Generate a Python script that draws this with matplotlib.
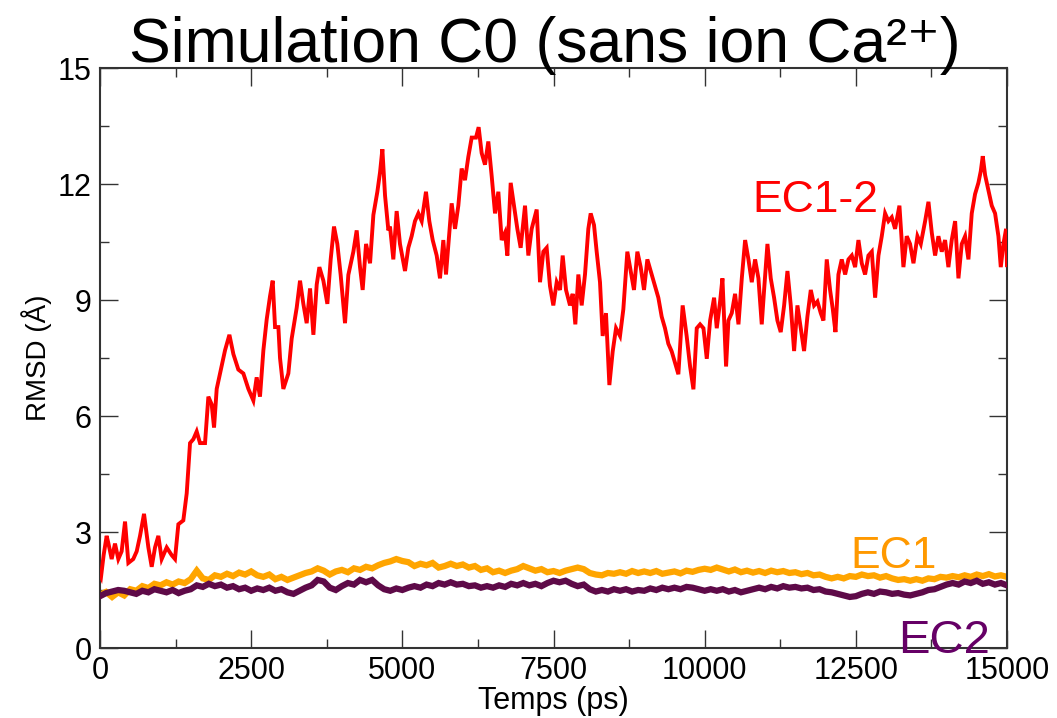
import matplotlib
matplotlib.use("Agg")
import matplotlib.pyplot as plt
from matplotlib.ticker import MultipleLocator

# ---- data: RMSD (Å) versus simulation time (ps) ----
red_t = [0, 17, 60, 110, 140, 193, 248, 303, 358, 414, 469, 550, 607, 662, 728, 800, 855, 910, 965,
         1020, 1103, 1186, 1240, 1296, 1378, 1434, 1489, 1544, 1599, 1654, 1737, 1792, 1847, 1886,
         1930, 2012, 2068, 2140, 2206, 2288, 2371, 2454, 2536, 2591, 2646, 2702, 2757, 2812, 2856,
         2895, 2950, 2977, 3032, 3115, 3170, 3253, 3308, 3363, 3418, 3474, 3529, 3584, 3628, 3694,
         3760, 3815, 3870, 3925, 3980, 4052, 4107, 4190, 4245, 4300, 4344, 4400, 4466, 4521, 4587,
         4631, 4670, 4714, 4769,
         4796, 4851, 4906, 4961, 5044, 5099, 5154, 5209, 5265, 5320, 5391, 5446, 5502, 5568, 5623,
         5678, 5722, 5777, 5816, 5871, 5926, 5981, 6036, 6091, 6147, 6218, 6262, 6312, 6367, 6422,
         6478, 6533, 6588, 6643, 6698, 6737, 6792, 6847, 6902, 6957, 7029, 7084, 7139, 7222, 7277,
         7332, 7387, 7442, 7497, 7553, 7608, 7652, 7707, 7773, 7817, 7861, 7911, 7966, 8021, 8076,
         8115, 8170, 8214, 8269, 8313, 8368, 8424, 8479, 8534, 8600, 8655, 8721, 8776, 8831, 8887,
         8942, 8997, 9052, 9124, 9179, 9234, 9289, 9344, 9399, 9455, 9510, 9565, 9636, 9702,
         9759, 9814, 9869, 9924, 9980, 10035, 10090, 10156, 10200, 10255, 10294, 10354, 10393, 10448,
         10503, 10559, 10614, 10669, 10724, 10779, 10834, 10889, 10944, 10983, 11038, 11093, 11148,
         11203, 11258, 11314, 11369, 11424, 11479, 11534, 11589, 11644, 11699, 11755, 11810, 11865,
         11920, 11964, 12019, 12074, 12119, 12163, 12212, 12267, 12323, 12378, 12433, 12488, 12543,
         12598, 12653, 12708, 12764, 12819, 12874, 12929, 12984, 13039, 13094, 13149, 13221, 13287,
         13342, 13397, 13453, 13519, 13574, 13646, 13701, 13756, 13811, 13866, 13921, 13976, 14031,
         14086, 14142, 14197, 14252, 14307, 14362, 14417, 14472, 14527, 14566, 14599, 14638, 14693,
         14748, 14803, 14858, 14897, 14941, 14985, 15000]
red_v = [1.90, 1.84, 2.40, 2.90, 2.70, 2.30, 2.70, 2.30, 2.50, 3.27, 2.20, 2.30, 2.50, 2.90, 3.47, 2.60,
         2.10, 2.60, 2.90, 2.30, 2.60, 2.40, 2.30, 3.20, 3.30, 4.00, 5.30, 5.40, 5.60, 5.30, 5.30, 6.50,
         6.30, 5.70, 6.70, 7.30, 7.70, 8.10, 7.60, 7.20, 7.10, 6.70, 6.40, 7.00, 6.50, 7.70, 8.50, 9.10,
         9.50, 8.30, 8.30, 7.50, 6.70, 7.10, 8.00, 8.80, 9.50, 8.90, 8.40, 9.30, 8.10, 9.40, 9.85, 9.50,
         8.90, 10.05, 10.90, 10.45, 9.65, 8.40, 9.65, 10.25, 10.80, 9.85, 9.26, 10.45, 9.95, 11.20,
         11.80, 12.30, 12.90, 11.70, 10.80,
         10.90, 10.05, 11.30, 10.45, 9.75, 10.35, 10.65, 11.04, 11.24, 11.04, 11.80, 11.04, 10.55,
         10.15, 9.56, 10.55, 9.66, 10.74, 11.50, 10.84, 11.44, 12.40, 12.10, 12.70, 13.20, 13.20,
         13.47, 12.80, 12.50, 13.10, 12.20, 11.24, 11.80, 10.55, 10.74, 10.15, 12.03, 11.44, 10.84,
         10.35, 11.44, 10.15, 10.84, 11.34, 9.46, 10.25, 10.35, 9.36, 8.86, 9.46, 9.26, 10.15, 9.26,
         8.86, 9.16, 8.37, 9.66, 8.86, 9.66, 10.84, 11.24, 10.94, 10.25, 9.46, 8.07, 8.66, 6.80, 7.67,
         8.27, 8.07, 8.76, 10.25, 9.75, 9.26, 10.25, 9.85, 9.26, 10.05, 9.66, 9.36, 9.06, 8.57, 8.27,
         7.87, 7.67, 7.38, 7.08, 8.86, 8.07,
         7.28, 6.69, 8.27, 8.37, 8.27, 7.48, 8.47, 9.06, 8.27, 8.96, 9.56, 7.28, 8.47, 8.66, 9.16,
         8.37, 9.56, 10.55, 10.05, 9.46, 10.05, 9.56, 8.37, 9.26, 10.45, 9.56, 9.06, 8.47, 8.17, 8.86,
         9.75, 8.86, 7.68, 8.86, 8.27, 7.68, 8.57, 9.26, 8.86, 8.96, 8.66, 8.47, 10.05, 9.26, 8.76,
         8.17, 9.66, 10.05, 9.66, 10.05, 10.15, 9.85, 10.55, 9.95, 9.66, 10.15, 10.25, 9.06, 10.15,
         10.65, 11.24, 11.04, 11.14, 10.84, 11.44, 9.85, 10.65, 10.45, 9.95, 10.65, 10.45, 11.04,
         11.54, 10.74, 10.15, 10.65, 10.25, 10.55, 9.85, 10.55, 11.04, 9.56, 10.45, 10.65, 10.05,
         11.24, 11.74, 12.03, 12.33, 12.72, 12.23, 11.84, 11.44, 11.24, 10.65, 9.85, 10.45, 10.84, 9.90]

# EC1 and EC2 sampled every 100 ps, 0 .. 15000
step_ps = 100
ec1_v = [1.38, 1.45, 1.32, 1.44, 1.36, 1.52, 1.48, 1.60, 1.55, 1.66, 1.62, 1.70, 1.64, 1.72, 1.68,
         1.78, 2.00, 1.80, 1.76, 1.88, 1.84, 1.92, 1.86, 1.95, 1.90, 1.98, 1.88, 1.84, 1.90, 1.78,
         1.84, 1.76, 1.82, 1.88, 1.94, 1.98, 2.06, 2.00, 1.90, 1.98, 2.02, 1.96, 2.06, 2.02, 2.10,
         2.06, 2.14, 2.20, 2.24, 2.30, 2.25, 2.22, 2.12, 2.18, 2.14, 2.20, 2.08, 2.12, 2.18, 2.12,
         2.16, 2.08, 2.12, 2.02, 2.06, 1.96, 2.00, 1.94, 2.00, 2.04, 2.12, 2.06, 2.00, 2.04, 1.96,
         1.99, 1.94, 2.00, 2.04, 2.08, 2.04, 1.94, 1.90, 1.88, 1.94, 1.92, 1.96, 1.92, 1.99, 1.94,
         1.98, 1.94, 1.99, 1.92, 1.95, 1.98, 1.93, 2.00, 1.97, 2.02, 2.05, 2.02, 2.08, 2.03, 1.98,
         2.03, 1.96, 2.00, 1.95, 1.99, 1.94, 2.00, 1.96, 1.99, 1.94, 1.96, 1.91, 1.94, 1.88, 1.90,
         1.84, 1.80, 1.84, 1.80, 1.86, 1.84, 1.90, 1.86, 1.88, 1.82, 1.86, 1.80, 1.76, 1.78, 1.74,
         1.78, 1.74, 1.80, 1.78, 1.84, 1.82, 1.86, 1.83, 1.88, 1.84, 1.90, 1.86, 1.91, 1.85, 1.88,
         1.84]
ec2_v = [1.34, 1.42, 1.46, 1.50, 1.48, 1.44, 1.40, 1.48, 1.44, 1.52, 1.48, 1.44, 1.50, 1.42, 1.48,
         1.52, 1.62, 1.58, 1.66, 1.60, 1.64, 1.56, 1.60, 1.52, 1.56, 1.48, 1.54, 1.50, 1.56, 1.48,
         1.52, 1.44, 1.40, 1.48, 1.56, 1.62, 1.76, 1.72, 1.56, 1.50, 1.60, 1.68, 1.64, 1.76, 1.70,
         1.76, 1.62, 1.52, 1.48, 1.54, 1.50, 1.56, 1.60, 1.56, 1.64, 1.60, 1.68, 1.64, 1.70, 1.64,
         1.66, 1.60, 1.62, 1.56, 1.60, 1.56, 1.62, 1.58, 1.66, 1.62, 1.68, 1.62, 1.66, 1.60, 1.68,
         1.74, 1.70, 1.74, 1.66, 1.60, 1.64, 1.52, 1.46, 1.50, 1.46, 1.52, 1.48, 1.52, 1.46, 1.50,
         1.48, 1.54, 1.50, 1.56, 1.52, 1.56, 1.52, 1.58, 1.56, 1.52, 1.48, 1.52, 1.48, 1.52, 1.46,
         1.50, 1.44, 1.48, 1.52, 1.56, 1.52, 1.58, 1.54, 1.60, 1.56, 1.58, 1.54, 1.56, 1.50, 1.52,
         1.46, 1.44, 1.40, 1.36, 1.32, 1.34, 1.40, 1.44, 1.40, 1.46, 1.44, 1.40, 1.42, 1.38, 1.36,
         1.40, 1.44, 1.50, 1.52, 1.58, 1.64, 1.68, 1.64, 1.72, 1.68, 1.74, 1.66, 1.70, 1.64, 1.68,
         1.62]
grid_t = [i * step_ps for i in range(len(ec1_v))]

x_ticks = [0, 2500, 5000, 7500, 10000, 12500, 15000]
y_ticks = [0, 3, 6, 9, 12, 15]

sans = ["Liberation Sans", "DejaVu Sans"]

fig = plt.figure(figsize=(10.57, 7.18), dpi=100)
ax = fig.add_axes([100 / 1057, 70 / 718, 907 / 1057, 580 / 718])

ax.plot(grid_t, ec1_v, color="#FFA500", lw=4.5, zorder=2, solid_joinstyle="miter")
ax.plot(grid_t, ec2_v, color="#5E0A48", lw=4.5, zorder=3, solid_joinstyle="miter")
ax.plot(red_t, red_v, color="#FF0000", lw=2.8, zorder=4, solid_joinstyle="miter")

ax.set_xlim(0, 15000)
ax.set_ylim(0, 15)
ax.set_xticks(x_ticks)
ax.set_yticks(y_ticks)
ax.xaxis.set_minor_locator(MultipleLocator(1250))
ax.yaxis.set_minor_locator(MultipleLocator(1.5))
ax.tick_params(which="both", direction="in", top=True, right=True, color="#333333", width=1.0)
ax.tick_params(which="major", length=13, pad=6)
ax.tick_params(which="minor", length=6.5)
for lab in ax.get_xticklabels() + ax.get_yticklabels():
    lab.set_fontfamily(sans)
    lab.set_fontsize(22)
for sp in ax.spines.values():
    sp.set_color("#333333")
    sp.set_linewidth(1.5)

ax.set_xlabel("Temps (ps)", fontsize=22, family=sans, labelpad=0)
ax.set_ylabel("RMSD (Å)", fontsize=20, family=sans, labelpad=4)

ax.text(10783, 11.27, "EC1-2", color="#FF0000", fontsize=32, family=sans, va="baseline")
ax.text(12403, 2.07, "EC1", color="#FF9900", fontsize=32, family=sans, va="baseline", zorder=5)
ax.text(13197, -0.13, "EC2", color="#660066", fontsize=34, family=sans, va="baseline",
        clip_on=False, zorder=5)

fig.text(545 / 1057, 1 - 62 / 718, "Simulation C0 (sans ion Ca²⁺)",
         ha="center", va="baseline", fontsize=45, family=sans)

fig.savefig("out.png", dpi=100)
